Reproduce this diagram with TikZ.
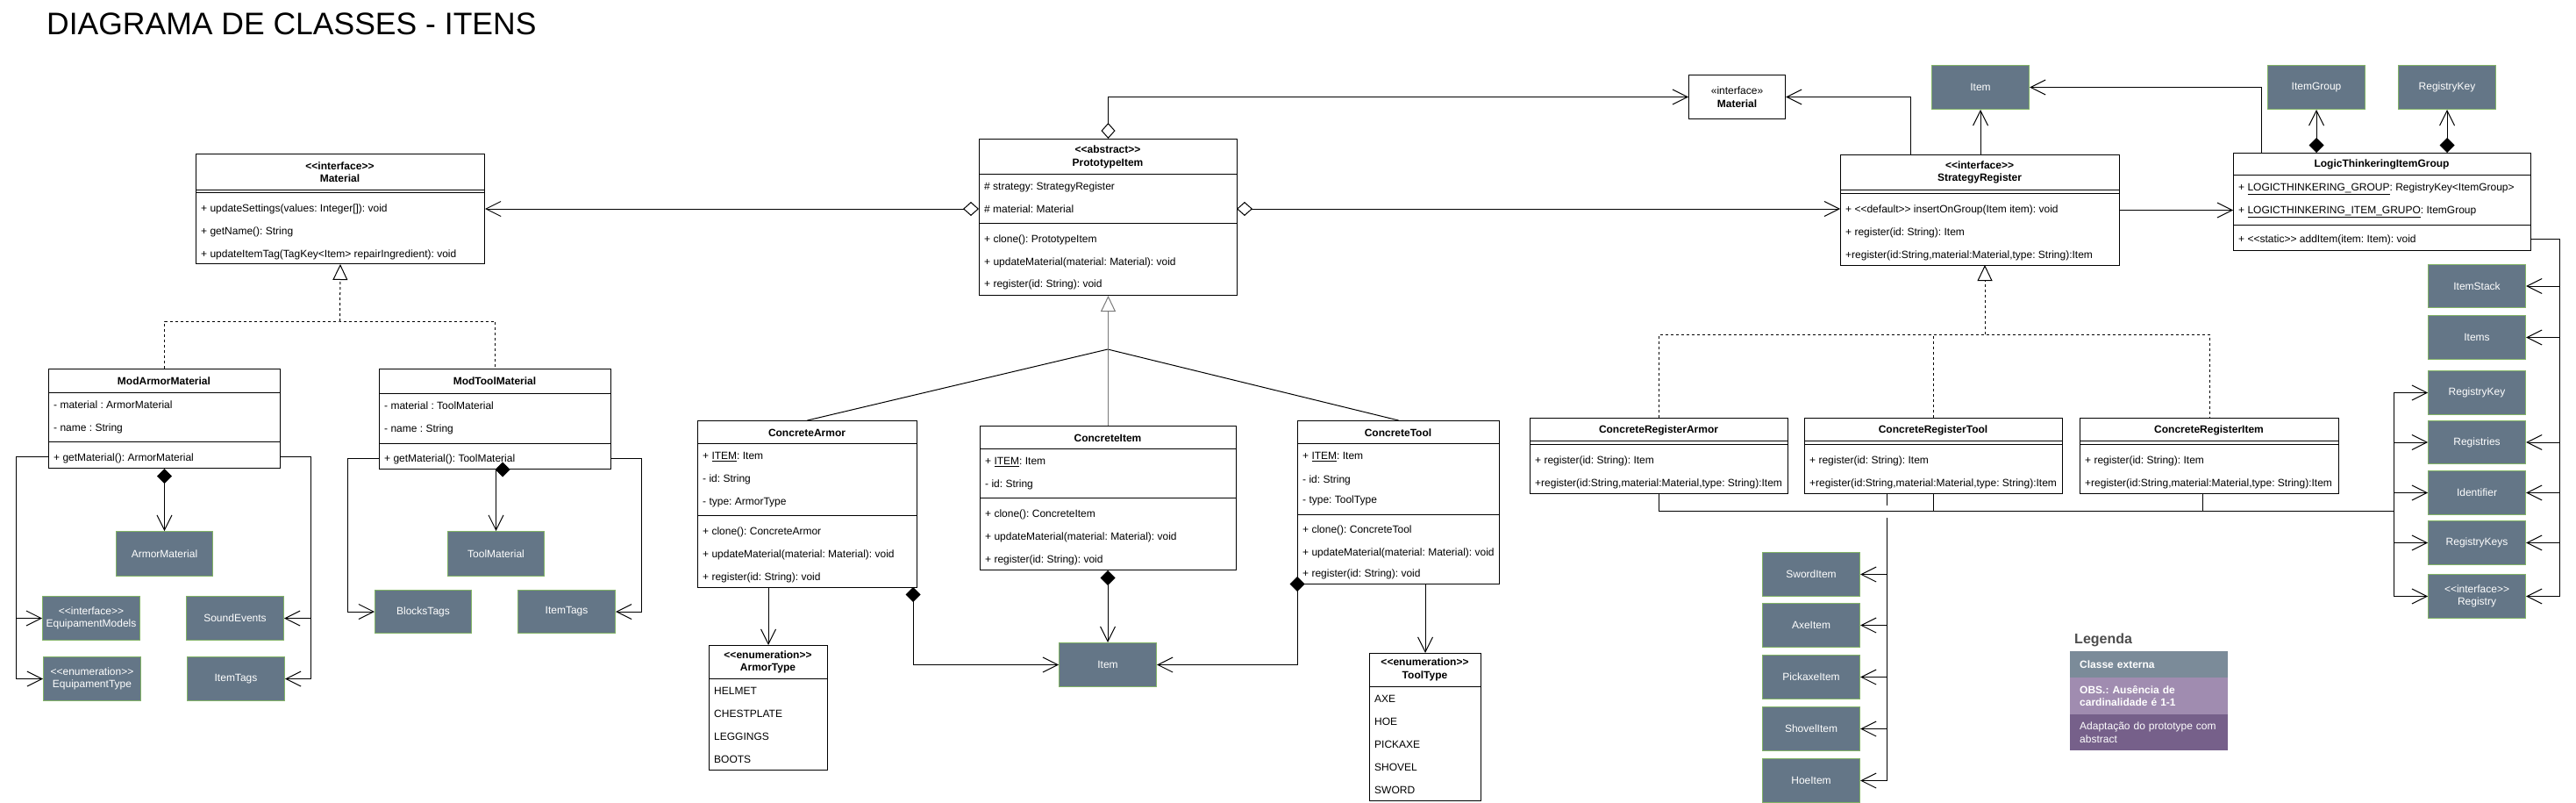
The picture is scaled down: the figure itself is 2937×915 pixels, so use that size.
\documentclass[tikz,border=0pt]{standalone}
\usepackage{fontspec}
\setmainfont{Liberation Sans}[Ligatures=TeXOff]
\usetikzlibrary{arrows.meta}
\frenchspacing
\definecolor{extfill}{HTML}{647687}
\definecolor{extline}{HTML}{82B366}
\definecolor{legA}{HTML}{7B8B99}
\definecolor{legB}{HTML}{A08CB0}
\definecolor{legC}{HTML}{76608A}
\definecolor{gline}{HTML}{7A7A7A}
\definecolor{leggray}{HTML}{4D4D4D}
\newcommand\memfont{\fontsize{12}{14.5}\selectfont}
\newcommand\hsep[2]{\draw[line width=1pt] (#1.west |- 0,#2) -- (#1.east |- 0,#2);}
\newcommand\mbr[4]{\node[mem] (#1) at (#2,#3) {#4};}
\tikzset{
  cls/.style={draw, line width=1pt, fill=white, inner sep=0pt, anchor=north west},
  ext/.style={draw=extline, line width=1pt, fill=extfill, text=white, inner sep=0pt, anchor=north west, align=center, font=\memfont},
  mem/.style={anchor=west, inner sep=0pt, text height=8.6pt, text depth=0pt, font=\memfont},
  hdr/.style={inner sep=0pt, align=center, font=\memfont\bfseries},
  conn/.style={line width=1pt},
  dsh/.style={dash pattern=on 3pt off 3pt},
  barb/.style={arrows={-Straight Barb[length=17pt,width=17pt]}},
  cmp/.style={arrows={Diamond[length=17pt,width=17pt]-Straight Barb[length=17pt,width=17pt]}},
  agg/.style={arrows={Diamond[open,length=18pt,width=16pt]-Straight Barb[length=17pt,width=17pt]}},
  gen/.style={arrows={-Triangle[open,length=18pt,width=17pt]}},
  leg/.style={anchor=north west, minimum width=180pt, text width=158pt, inner xsep=11pt, inner ysep=0pt, align=left, text=white, font=\memfont},
}
\begin{document}
\begin{tikzpicture}[x=1pt,y=-1pt]
\fill[white] (0,0) rectangle (2937,915);
\useasboundingbox (0,0) rectangle (2937,915);

\node[anchor=base west, inner sep=0pt, font=\fontsize{35.5}{40}\selectfont] (title) at (53,40) {DIAGRAMA DE CLASSES - ITENS};

% ---------------- Material (interface) ----------------
\node[cls, minimum width=329pt, minimum height=125pt] (mat) at (223,175) {};
\node[hdr] (mat-h) at (387.5,196) {<<interface>>\\Material};
\hsep{mat}{216}\hsep{mat}{219}
\mbr{mat-m1}{229}{237}{+ updateSettings(values: Integer[]): void}
\mbr{mat-m2}{229}{263}{+ getName(): String}
\mbr{mat-m3}{229}{289}{+ updateItemTag(TagKey<Item> repairIngredient): void}

% ---------------- ModArmorMaterial ----------------
\node[cls, minimum width=264pt, minimum height=113pt] (mam) at (55,420) {};
\node[hdr] (mam-h) at (187,434) {ModArmorMaterial};
\hsep{mam}{447}
\mbr{mam-a1}{61}{461}{- material : ArmorMaterial}
\mbr{mam-a2}{61}{487}{- name : String}
\hsep{mam}{503}
\mbr{mam-m1}{61}{521}{+ getMaterial(): ArmorMaterial}

% ---------------- ModToolMaterial ----------------
\node[cls, minimum width=264pt, minimum height=114pt] (mtm) at (432,420) {};
\node[hdr] (mtm-h) at (564,434) {ModToolMaterial};
\hsep{mtm}{448}
\mbr{mtm-a1}{438}{462}{- material : ToolMaterial}
\mbr{mtm-a2}{438}{488}{- name : String}
\hsep{mtm}{505}
\mbr{mtm-m1}{438}{522}{+ getMaterial(): ToolMaterial}

% external classes (left)
\node[ext, minimum width=110pt, minimum height=51pt] (armat) at (132,605) {ArmorMaterial};
\node[ext, minimum width=111pt, minimum height=50pt] (eqm) at (48,679) {<<interface>>\\EquipamentModels};
\node[ext, minimum width=111pt, minimum height=50pt] (snd) at (212,679) {SoundEvents};
\node[ext, minimum width=111pt, minimum height=50pt] (eqt) at (49,748) {<<enumeration>>\\EquipamentType};
\node[ext, minimum width=111pt, minimum height=50pt] (itg) at (213,748) {ItemTags};
\node[ext, minimum width=110pt, minimum height=51pt] (toolmat) at (510,605) {ToolMaterial};
\node[ext, minimum width=110pt, minimum height=49pt] (blk) at (427,672) {BlocksTags};
\node[ext, minimum width=111pt, minimum height=49pt] (itg2) at (590,672) {ItemTags};

\coordinate (jm) at (387.5,366);
\draw[conn,dsh] (mam.north) |- (jm) -| (mtm.north);
\draw[conn,dsh,gen] (jm) -- (mat.south);

\coordinate (mamL) at (55,520);
\coordinate (mamR) at (319,520);
\draw[conn,barb] (mamL) -- ++(-37,0) |- (eqm.west);
\draw[conn,barb] (mamL) -- ++(-37,0) |- (eqt.west);
\draw[conn,barb] (mamR) -- ++(35,0) |- (snd.east);
\draw[conn,barb] (mamR) -- ++(35,0) |- (itg.east);
\draw[conn,cmp] (mam.south) -- (armat.north);
\coordinate (mtmL) at (432,522);
\coordinate (mtmR) at (696,522);
\draw[conn,barb] (mtmL) -- ++(-36,0) |- (blk.west);
\draw[conn,barb] (mtmR) -- ++(35,0) |- (itg2.east);
\draw[conn,cmp] (mtm.south) -- (toolmat.north |- mtm.south) -- (toolmat.north);

% ---------------- PrototypeItem ----------------
\node[cls, minimum width=294pt, minimum height=178pt] (pi) at (1116,158) {};
\node[hdr] (pi-h) at (1263,179) {<<abstract>>\\PrototypeItem};
\hsep{pi}{198}
\mbr{pi-a1}{1122}{212}{\# strategy: StrategyRegister}
\mbr{pi-a2}{1122}{238}{\# material: Material}
\hsep{pi}{254}
\mbr{pi-m1}{1122}{272}{+ clone(): PrototypeItem}
\mbr{pi-m2}{1122}{298}{+ updateMaterial(material: Material): void}
\mbr{pi-m3}{1122}{323}{+ register(id: String): void}

% ---------------- Concrete classes ----------------
\node[cls, minimum width=250pt, minimum height=190pt] (ca) at (795,479) {};
\node[hdr] (ca-h) at (920,493) {ConcreteArmor};
\hsep{ca}{505}
\mbr{ca-a1}{801}{519}{+ \underline{ITEM}: Item}
\mbr{ca-a2}{801}{545}{- id: String}
\mbr{ca-a3}{801}{571}{- type: ArmorType}
\hsep{ca}{587}
\mbr{ca-m1}{801}{605}{+ clone(): ConcreteArmor}
\mbr{ca-m2}{801}{631}{+ updateMaterial(material: Material): void}
\mbr{ca-m3}{801}{657}{+ register(id: String): void}

\node[cls, minimum width=292pt, minimum height=164pt] (ci) at (1117,485) {};
\node[hdr] (ci-h) at (1263,499) {ConcreteItem};
\hsep{ci}{511}
\mbr{ci-a1}{1123}{525}{+ \underline{ITEM}: Item}
\mbr{ci-a2}{1123}{551}{- id: String}
\hsep{ci}{567}
\mbr{ci-m1}{1123}{585}{+ clone(): ConcreteItem}
\mbr{ci-m2}{1123}{611}{+ updateMaterial(material: Material): void}
\mbr{ci-m3}{1123}{637}{+ register(id: String): void}

\node[cls, minimum width=230pt, minimum height=186pt] (ct) at (1479,479) {};
\node[hdr] (ct-h) at (1594,493) {ConcreteTool};
\hsep{ct}{505}
\mbr{ct-a1}{1485}{519}{+ \underline{ITEM}: Item}
\mbr{ct-a2}{1485}{546}{- id: String}
\mbr{ct-a3}{1485}{569}{- type: ToolType}
\hsep{ct}{586}
\mbr{ct-m1}{1485}{603}{+ clone(): ConcreteTool}
\mbr{ct-m2}{1485}{629}{+ updateMaterial(material: Material): void}
\mbr{ct-m3}{1485}{653}{+ register(id: String): void}

% enums
\node[cls, minimum width=135pt, minimum height=142pt] (at) at (808,735) {};
\node[hdr] (at-h) at (875.5,754.5) {<<enumeration>>\\ArmorType};
\hsep{at}{773}
\mbr{at-1}{814}{787}{HELMET}
\mbr{at-2}{814}{813}{CHESTPLATE}
\mbr{at-3}{814}{839}{LEGGINGS}
\mbr{at-4}{814}{865}{BOOTS}

\node[cls, minimum width=127pt, minimum height=168pt] (tt) at (1561,744) {};
\node[hdr] (tt-h) at (1624.5,763) {<<enumeration>>\\ToolType};
\hsep{tt}{782}
\mbr{tt-1}{1567}{796}{AXE}
\mbr{tt-2}{1567}{822}{HOE}
\mbr{tt-3}{1567}{848}{PICKAXE}
\mbr{tt-4}{1567}{874}{SHOVEL}
\mbr{tt-5}{1567}{900}{SWORD}

\node[ext, minimum width=111pt, minimum height=50pt] (itc) at (1207,732) {Item};

% generalization to PrototypeItem
\coordinate (jp) at (1263,398);
\draw[conn] (ca.north) -- (jp);
\draw[conn] (ct.north) -- (jp);
\draw[conn,draw=gline,gen] (ci.north) -- (pi.south);

% aggregations of PrototypeItem
\node[cls, minimum width=110pt, minimum height=50pt, align=center, font=\memfont] (mats) at (1925,85) {«interface»\\\textbf{Material}};
\coordinate (piL) at (1116,238);
\coordinate (piR) at (1410,238);
\draw[conn,agg] (piL) -- (piL -| mat.east);
\draw[conn,agg] (pi.north) |- (mats.west);

% concrete associations
\draw[conn,barb] (at.north |- ca.south) -- (at.north);
\coordinate (caD) at (1041,669);
\draw[conn,cmp] (caD) |- (itc.west);
\draw[conn,cmp] (itc.north |- ci.south) -- (itc.north);
\coordinate (ctD) at (1479,657);
\draw[conn,cmp] (ctD) |- (itc.east);
\draw[conn,barb] (tt.north |- ct.south) -- (tt.north);

% ---------------- StrategyRegister ----------------
\node[ext, minimum width=111pt, minimum height=50pt] (itt) at (2202,74) {Item};
\node[cls, minimum width=318pt, minimum height=126pt] (sr) at (2098,176) {};
\node[hdr] (sr-h) at (2257,196.5) {<<interface>>\\StrategyRegister};
\hsep{sr}{216}\hsep{sr}{220}
\mbr{sr-m1}{2104}{238}{+ <<default>> insertOnGroup(Item item): void}
\mbr{sr-m2}{2104}{264}{+ register(id: String): Item}
\mbr{sr-m3}{2104}{290}{+register(id:String,material:Material,type: String):Item}

\draw[conn,agg] (piR) -- (piR -| sr.west);
\draw[conn,barb] (itt.south |- sr.north) -- (itt.south);
\coordinate (srM) at (2178,176);
\draw[conn,barb] (srM) |- (mats.east);

% ---------------- LogicThinkeringItemGroup ----------------
\node[cls, minimum width=339pt, minimum height=111pt] (ltg) at (2546,174) {};
\node[hdr] (ltg-h) at (2715.5,187) {LogicThinkeringItemGroup};
\hsep{ltg}{199}
\mbr{ltg-a1}{2552}{213}{+ \underline{LOGICTHINKERING\_GROUP}: RegistryKey<ItemGroup>}
\mbr{ltg-a2}{2552}{239}{+ \underline{LOGICTHINKERING\_ITEM\_GRUPO}: ItemGroup}
\hsep{ltg}{256}
\mbr{ltg-m1}{2552}{272}{+ <<static>> addItem(item: Item): void}

\draw[conn,barb] (sr.east) -- (sr.east -| ltg.west);
\node[ext, minimum width=111pt, minimum height=50pt] (ig) at (2585,74) {ItemGroup};
\node[ext, minimum width=111pt, minimum height=50pt] (rk) at (2734,74) {RegistryKey};
\draw[conn,cmp] (ig.south |- ltg.north) -- (ig.south);
\draw[conn,cmp] (rk.south |- ltg.north) -- (rk.south);
\coordinate (ltgT) at (2578,174);
\draw[conn,barb] (ltgT) |- (itt.east);

% right column
\node[ext, minimum width=111pt, minimum height=49pt] (ist) at (2768,301) {ItemStack};
\node[ext, minimum width=111pt, minimum height=50pt] (its) at (2768,359) {Items};
\node[ext, minimum width=111pt, minimum height=50pt] (rk2) at (2768,422) {RegistryKey};
\node[ext, minimum width=111pt, minimum height=49pt] (rgs) at (2768,479) {Registries};
\node[ext, minimum width=111pt, minimum height=50pt] (idf) at (2768,536) {Identifier};
\node[ext, minimum width=111pt, minimum height=50pt] (rks) at (2768,593) {RegistryKeys};
\node[ext, minimum width=111pt, minimum height=50pt] (rgy) at (2768,654) {<<interface>>\\Registry};

\coordinate (ltgR) at (2885,272);
\coordinate (rb) at (2918,272);
\foreach \n in {ist,its,rgs,idf,rks,rgy}{
  \draw[conn,barb] (ltgR) -- (rb) |- (\n.east);
}

% ---------------- ConcreteRegister classes ----------------
\node[cls, minimum width=294pt, minimum height=86pt] (cra) at (1744,476) {};
\node[hdr] (cra-h) at (1891,490) {ConcreteRegisterArmor};
\hsep{cra}{502}\hsep{cra}{506}
\mbr{cra-m1}{1750}{524}{+ register(id: String): Item}
\mbr{cra-m2}{1750}{550}{+register(id:String,material:Material,type: String):Item}

\node[cls, minimum width=294pt, minimum height=86pt] (crt) at (2057,476) {};
\node[hdr] (crt-h) at (2204,490) {ConcreteRegisterTool};
\hsep{crt}{502}\hsep{crt}{506}
\mbr{crt-m1}{2063}{524}{+ register(id: String): Item}
\mbr{crt-m2}{2063}{550}{+register(id:String,material:Material,type: String):Item}

\node[cls, minimum width=295pt, minimum height=86pt] (cri) at (2371,476) {};
\node[hdr] (cri-h) at (2518.5,490) {ConcreteRegisterItem};
\hsep{cri}{502}\hsep{cri}{506}
\mbr{cri-m1}{2377}{524}{+ register(id: String): Item}
\mbr{cri-m2}{2377}{550}{+register(id:String,material:Material,type: String):Item}

\coordinate (js) at (2263,381);
\coordinate (srB) at (2263,302);
\draw[conn,dsh] (cra.north) |- (js) -| (cri.north);
\draw[conn,dsh] (crt.north) -- (crt.north |- js);
\draw[conn,dsh,gen] (js) -- (srB);

\coordinate (lb) at (2729,582);
\foreach \n in {rk2,rgs,idf,rks,rgy}{
  \draw[conn,barb] (cra.south) |- (lb) |- (\n.west);
}
\draw[conn] (crt.south) -- (crt.south |- lb);
\coordinate (criB) at (2511,562);
\draw[conn] (criB) -- (criB |- lb);

% tool items
\node[ext, minimum width=111pt, minimum height=50pt] (swd) at (2009,629) {SwordItem};
\node[ext, minimum width=111pt, minimum height=50pt] (axe) at (2009,687) {AxeItem};
\node[ext, minimum width=111pt, minimum height=50pt] (pck) at (2009,746) {PickaxeItem};
\node[ext, minimum width=111pt, minimum height=50pt] (shv) at (2009,805) {ShovelItem};
\node[ext, minimum width=111pt, minimum height=50pt] (hoe) at (2009,864) {HoeItem};
\coordinate (crtL) at (2151,562);
\coordinate (tb) at (2151,590);
\draw[conn] (crtL) -- ++(0,14);
\foreach \n in {swd,axe,pck,shv,hoe}{
  \draw[conn,barb] (tb) |- (\n.east);
}

% ---------------- Legend ----------------
\node[anchor=base west, inner sep=0pt, text=leggray, font=\fontsize{16}{18}\selectfont\bfseries] (legt) at (2365,733) {Legenda};
\node[leg, fill=legA, minimum height=30pt] (leg1) at (2360,742) {\bfseries Classe externa};
\node[leg, fill=legB, minimum height=42pt] (leg2) at (2360,772) {\bfseries OBS.: Ausência de\\cardinalidade é 1-1};
\node[leg, fill=legC, minimum height=41pt] (leg3) at (2360,814) {Adaptação do prototype com\\abstract};
\end{tikzpicture}
\end{document}
